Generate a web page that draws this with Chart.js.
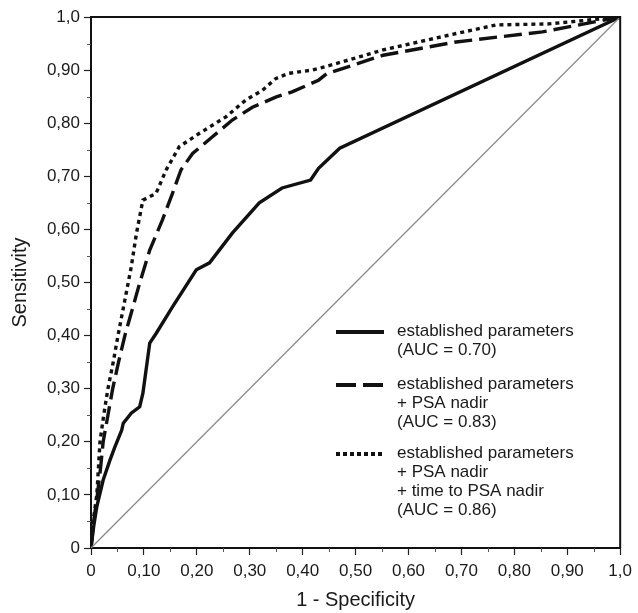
<!DOCTYPE html>
<html>
<head>
<meta charset="utf-8">
<script src="https://cdn.jsdelivr.net/npm/chart.js@4.4.1/dist/chart.umd.min.js"></script>
<style>
  html, body { margin: 0; padding: 0; background: #fff; }
  #wrap { width: 638px; height: 613px; }
</style>
</head>
<body>
<div id="wrap"><canvas id="roc" width="638" height="613"></canvas></div>
<script>
// ROC curves (x = 1 - specificity, y = sensitivity)
const estX = [0, 0.005, 0.011, 0.023, 0.036, 0.045, 0.058, 0.061, 0.076, 0.092, 0.098, 0.111, 0.123, 0.154, 0.199, 0.224, 0.267, 0.318, 0.361, 0.415, 0.43, 0.47, 1];
const estY = [0, 0.04, 0.078, 0.128, 0.166, 0.19, 0.222, 0.235, 0.254, 0.266, 0.291, 0.386, 0.404, 0.454, 0.524, 0.537, 0.593, 0.65, 0.678, 0.693, 0.715, 0.753, 1];

const nadirX = [0, 0.005, 0.012, 0.018, 0.023, 0.032, 0.041, 0.052, 0.064, 0.083, 0.092, 0.111, 0.135, 0.154, 0.17, 0.192, 0.229, 0.267, 0.305, 0.349, 0.38, 0.43, 0.445, 0.552, 0.69, 0.853, 1];
const nadirY = [0, 0.05, 0.1, 0.15, 0.2, 0.25, 0.3, 0.35, 0.4, 0.467, 0.499, 0.561, 0.618, 0.668, 0.712, 0.743, 0.774, 0.806, 0.83, 0.849, 0.859, 0.881, 0.893, 0.928, 0.953, 0.972, 1];

const timeX = [0, 0.004, 0.011, 0.014, 0.017, 0.024, 0.032, 0.042, 0.051, 0.064, 0.076, 0.086, 0.098, 0.123, 0.142, 0.167, 0.205, 0.255, 0.293, 0.324, 0.349, 0.374, 0.418, 0.445, 0.552, 0.677, 0.765, 0.865, 1];
const timeY = [0, 0.05, 0.1, 0.15, 0.2, 0.25, 0.3, 0.35, 0.4, 0.467, 0.529, 0.593, 0.655, 0.668, 0.712, 0.756, 0.781, 0.812, 0.844, 0.862, 0.884, 0.894, 0.9, 0.907, 0.938, 0.966, 0.985, 0.987, 1];

const refX = [0, 1];
const refY = [0, 1];

const legendText = [
  ["established parameters", "(AUC = 0.70)"],
  ["established parameters", "+ PSA nadir", "(AUC = 0.83)"],
  ["established parameters", "+ PSA nadir", "+ time to PSA nadir", "(AUC = 0.86)"]
];

const xTitle = "1 - Specificity";
const yTitle = "Sensitivity";

const toPoints = (xs, ys) => xs.map((x, i) => ({ x: x, y: ys[i] }));

const fmtTick = (v) => {
  const r = Math.round(v * 100) / 100;
  if (r === 0) return "0";
  if (r === 1) return "1,0";
  return r.toFixed(2).replace(".", ",");
};

const lineStyles = [
  { dash: [], legendDash: [], width: 3.4 },
  { dash: [18, 7], legendDash: [20, 7], width: 3.4 },
  { dash: [4, 4], legendDash: [4, 3], width: 3.4 }
];

// frame, minor ticks and the in-plot legend
const extras = {
  id: "extras",
  afterDraw(chart) {
    const c = chart.ctx;
    const a = chart.chartArea;
    const xs = chart.scales.x;
    const ys = chart.scales.y;
    c.save();
    c.strokeStyle = "#111";
    c.lineWidth = 2;
    c.beginPath();
    c.moveTo(a.left, a.top);
    c.lineTo(a.right, a.top);
    c.lineTo(a.right, a.bottom);
    c.stroke();

    c.lineWidth = 1;
    c.strokeStyle = "#555";
    for (let k = 0.05; k < 1; k += 0.1) {
      const px = Math.round(xs.getPixelForValue(k)) + 0.5;
      c.beginPath();
      c.moveTo(px, a.bottom);
      c.lineTo(px, a.bottom + 4);
      c.stroke();
      const py = Math.round(ys.getPixelForValue(k)) + 0.5;
      c.beginPath();
      c.moveTo(a.left, py);
      c.lineTo(a.left - 4, py);
      c.stroke();
    }

    // legend
    const sx0 = a.left + 245;
    const sx1 = a.left + 293;
    const tx = a.left + 306;
    const starts = [a.top + 314, a.top + 367, a.top + 436];
    c.font = "17px 'Liberation Sans', Arial, sans-serif";
    c.fillStyle = "#1a1a1a";
    c.textBaseline = "middle";
    legendText.forEach((lines, i) => {
      const y0 = starts[i];
      c.strokeStyle = "#111";
      c.lineWidth = lineStyles[i].width + 0.6;
      c.setLineDash(lineStyles[i].legendDash);
      c.beginPath();
      c.moveTo(sx0, y0 + 1);
      c.lineTo(sx1, y0 + 1);
      c.stroke();
      c.setLineDash([]);
      lines.forEach((t, j) => {
        c.fillText(t, tx, y0 + j * 19);
      });
    });
    c.restore();
  }
};

const series = [
  { x: refX, y: refY, color: "#8a8a8a", width: 1.3, dash: [] },
  { x: estX, y: estY, color: "#111", width: lineStyles[0].width, dash: lineStyles[0].dash },
  { x: nadirX, y: nadirY, color: "#111", width: lineStyles[1].width, dash: lineStyles[1].dash },
  { x: timeX, y: timeY, color: "#111", width: lineStyles[2].width, dash: lineStyles[2].dash }
];

new Chart(document.getElementById("roc"), {
  type: "scatter",
  data: {
    datasets: series.map((s) => ({
      data: toPoints(s.x, s.y),
      showLine: true,
      borderColor: s.color,
      borderWidth: s.width,
      borderDash: s.dash,
      pointRadius: 0,
      tension: 0,
      fill: false
    }))
  },
  options: {
    responsive: false,
    animation: false,
    events: [],
    layout: { padding: { top: 17, right: 15, left: 0, bottom: 0 } },
    plugins: { legend: { display: false }, tooltip: { enabled: false } },
    scales: {
      x: {
        type: "linear",
        min: 0,
        max: 1,
        afterFit(scale) { scale.height = 65; },
        border: { display: true, color: "#111", width: 2 },
        grid: { drawOnChartArea: false, drawTicks: true, tickLength: 7, tickColor: "#222", tickWidth: 1.2 },
        ticks: {
          stepSize: 0.1,
          maxRotation: 0,
          padding: 6,
          color: "#1a1a1a",
          font: { family: "'Liberation Sans', Arial, sans-serif", size: 17 },
          callback: (v) => fmtTick(v)
        },
        title: {
          display: true,
          text: xTitle,
          color: "#1a1a1a",
          padding: { top: 0, bottom: 1 },
          font: { family: "'Liberation Sans', Arial, sans-serif", size: 20 }
        }
      },
      y: {
        type: "linear",
        min: 0,
        max: 1,
        afterFit(scale) { scale.width = 91; },
        border: { display: true, color: "#111", width: 2 },
        grid: { drawOnChartArea: false, drawTicks: true, tickLength: 7, tickColor: "#222", tickWidth: 1.2 },
        ticks: {
          stepSize: 0.1,
          padding: 4,
          color: "#1a1a1a",
          font: { family: "'Liberation Sans', Arial, sans-serif", size: 17 },
          callback: (v) => fmtTick(v)
        },
        title: {
          display: true,
          text: yTitle,
          color: "#1a1a1a",
          padding: { top: 8, bottom: 0 },
          font: { family: "'Liberation Sans', Arial, sans-serif", size: 20 }
        }
      }
    }
  },
  plugins: [extras]
});
</script>
</body>
</html>
